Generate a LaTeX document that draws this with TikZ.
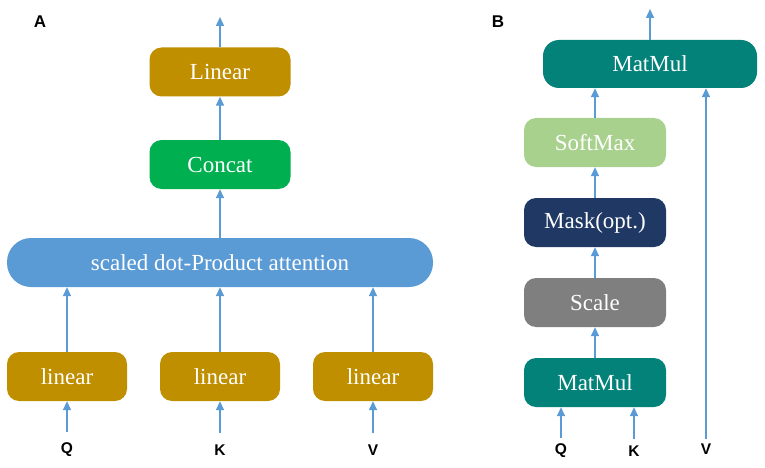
\documentclass[tikz,border=0pt]{standalone}
\usepackage{fontspec}
\setmainfont{Liberation Serif}
\newfontfamily\lblfont{Liberation Sans}
\usetikzlibrary{arrows.meta}
\definecolor{gold}{HTML}{BF8F00}
\definecolor{grn}{HTML}{00B050}
\definecolor{blu}{HTML}{5B9BD5}
\definecolor{teal2}{HTML}{03827A}
\definecolor{lgrn}{HTML}{A9D18E}
\definecolor{navy}{HTML}{1F3864}
\definecolor{gry}{HTML}{7F7F7F}
\definecolor{arrc}{HTML}{5B9BD5}
\tikzset{
  box/.style={rounded corners=12pt, text=white, inner sep=0pt,
    font=\fontsize{23}{25}\selectfont},
  arr/.style={draw=arrc, line width=1.5pt, -{Triangle[length=9pt,width=8pt]}},
  lbl/.style={font=\lblfont\bfseries\fontsize{15.5}{17}\selectfont, inner sep=0pt},
  panel/.style={font=\lblfont\bfseries\fontsize{17}{18}\selectfont, inner sep=0pt}
}
\begin{document}
\begin{tikzpicture}[x=1pt,y=-1pt]
\useasboundingbox (0,0) rectangle (765,468);
% Panel A
\node[panel] (pa) at (40,22) {A};
\node[box, fill=gold, minimum width=141pt, minimum height=49pt] (lin) at (220,72) {Linear};
\node[box, fill=grn, minimum width=141pt, minimum height=49pt] (cat) at (220,164.5) {Concat};
\node[box, fill=blu, rounded corners=24pt, minimum width=426pt, minimum height=49pt] (att) at (220,262.5) {scaled dot-Product attention};
\node[box, fill=gold, minimum width=120pt, minimum height=49pt] (l1) at (67,376.5) {linear};
\node[box, fill=gold, minimum width=120pt, minimum height=49pt] (l2) at (220,376.5) {linear};
\node[box, fill=gold, minimum width=120pt, minimum height=49pt] (l3) at (373,376.5) {linear};
\node[lbl] (qa) at (67,450) {Q};
\node[lbl] (ka) at (220,450) {K};
\node[lbl] (va) at (373,450) {V};
\coordinate (outa) at (220,17);
\draw[arr] (lin.north) -- (outa);
\draw[arr] (cat.north) -- (lin.south);
\draw[arr] (att.north) -- (cat.south);
\foreach \l/\i in {l1/qa,l2/ka,l3/va}{
  \draw[arr] (\l.north) -- (\l.north |- att.south);
  \draw[arr] ([yshift=11pt]\i.north) -- (\l.south);
}
% Panel B
\node[panel] (pb) at (498,22) {B};
\node[box, fill=teal2, rounded corners=16pt, minimum width=214pt, minimum height=48pt] (mm1) at (650,64) {MatMul};
\node[box, fill=lgrn, minimum width=142pt, minimum height=49pt] (sm) at (595,142.5) {SoftMax};
\node[box, fill=navy, minimum width=142pt, minimum height=49pt] (mask) at (595,222.5) {Mask(opt.)};
\node[box, fill=gry, minimum width=142pt, minimum height=49pt] (sc) at (595,302.5) {Scale};
\node[box, fill=teal2, minimum width=142pt, minimum height=49pt] (mm2) at (595,382.5) {MatMul};
\node[lbl] (qb) at (561,451) {Q};
\node[lbl] (kb) at (634,451) {K};
\node[lbl] (vb) at (706,449) {V};
\coordinate (outb) at (650,9);
\draw[arr] (mm1.north) -- (outb);
\draw[arr] (sm.north) -- (sm.north |- mm1.south);
\draw[arr] (mask.north) -- (sm.south);
\draw[arr] (sc.north) -- (mask.south);
\draw[arr] (mm2.north) -- (sc.south);
\draw[arr] ([yshift=6pt]qb.north) -- (qb.north |- mm2.south);
\draw[arr] ([yshift=6pt]kb.north) -- (kb.north |- mm2.south);
\draw[arr] ([yshift=4pt]vb.north) -- (vb.north |- mm1.south);
\end{tikzpicture}
\end{document}
